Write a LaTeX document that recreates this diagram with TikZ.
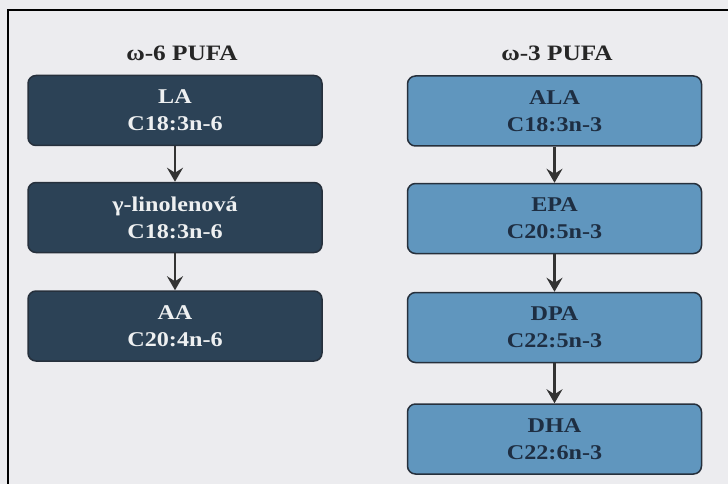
\documentclass[tikz,border=0pt]{standalone}
\usepackage{fontspec}
\setmainfont{Liberation Serif}[FakeStretch=1.15]
\usetikzlibrary{arrows.meta}
\definecolor{paper}{RGB}{236, 236, 239}
\definecolor{darkbox}{RGB}{44, 66, 86}
\definecolor{lightbox}{RGB}{96, 150, 190}
\definecolor{darktext}{RGB}{30, 46, 66}
\definecolor{boxedge}{RGB}{38, 48, 60}

\begin{document}
\begin{tikzpicture}[x=1pt, y=-1pt,
        acid/.style={draw=boxedge, line width=1.5pt, rounded corners=8pt,
            minimum width=294pt, minimum height=70pt, align=center,
            font=\bfseries\fontsize{21}{27}\selectfont},
        omega6/.style={acid, fill=darkbox, text=white!92!darkbox},
        omega3/.style={acid, fill=lightbox, text=darktext},
        title/.style={font=\bfseries\fontsize{22}{26}\selectfont, text=black!85},
        pfeil/.style={-{Stealth[length=14pt, width=16pt, inset=5pt]}, line width=2.6pt, draw=black!80}]
        % pozadi a ramecek (pravy a dolni okraj chybi)
        \fill[paper] (0,0) rectangle (728,484);
        \useasboundingbox (0,0) rectangle (728,484);
        \draw[line width=2pt] (8,484) -- (8,10) -- (728,10);
        % nadpisy sloupcu
        \node[title] (t6) at (182,53) {ω-6 PUFA};
        \node[title] (t3) at (557,53) {ω-3 PUFA};
        % rada omega-6
        \node[omega6] (la) at (175,110.5) {LA\\C18:3n-6};
        \node[omega6] (gla) at (175,217.5) {γ-linolenová\\C18:3n-6};
        \node[omega6] (aa) at (175,326) {AA\\C20:4n-6};
        % rada omega-3
        \node[omega3] (ala) at (554.5,111) {ALA\\C18:3n-3};
        \node[omega3] (epa) at (554.5,218.5) {EPA\\C20:5n-3};
        \node[omega3] (dpa) at (554.5,327.5) {DPA\\C22:5n-3};
        \node[omega3] (dha) at (554.5,439) {DHA\\C22:6n-3};
        % sipky
        \draw[pfeil] (la) -- (gla);
        \draw[pfeil] (gla) -- (aa);
        \draw[pfeil] (ala) -- (epa);
        \draw[pfeil] (epa) -- (dpa);
        \draw[pfeil] (dpa) -- (dha);
    \end{tikzpicture}
\end{document}
